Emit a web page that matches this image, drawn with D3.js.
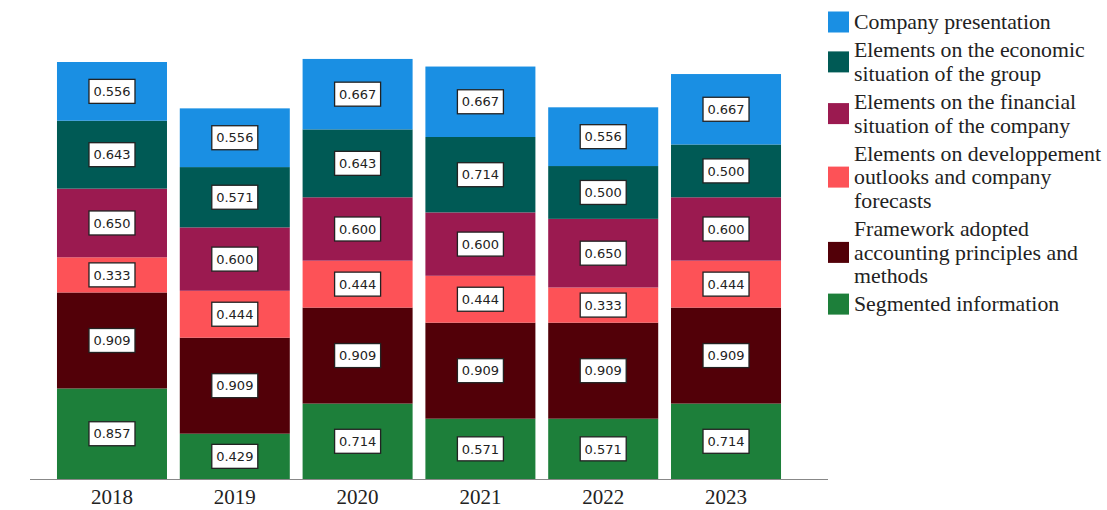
<!DOCTYPE html>
<html>
<head>
<meta charset="utf-8">
<script src="https://cdn.jsdelivr.net/npm/d3@7"></script>
<style>
  body { margin: 0; background: #fff; }
  svg { display: block; }
</style>
</head>
<body>
<svg id="svg" width="1107" height="510"></svg>
<script>
var years = ['2018', '2019', '2020', '2021', '2022', '2023'];

// series, bottom to top of each stack
var segmented   = [0.857, 0.429, 0.714, 0.571, 0.571, 0.714];
var framework   = [0.909, 0.909, 0.909, 0.909, 0.909, 0.909];
var outlooks    = [0.333, 0.444, 0.444, 0.444, 0.333, 0.444];
var financial   = [0.650, 0.600, 0.600, 0.600, 0.650, 0.600];
var economic    = [0.643, 0.571, 0.643, 0.714, 0.500, 0.500];
var presentation = [0.556, 0.556, 0.667, 0.667, 0.556, 0.667];

var colors = ['#1d7f3a', '#520008', '#fd5257', '#9b1a50', '#005a55', '#1a8fe3'];

// legend lines, top to bottom
var legendLines = [
    ['Company presentation'],
    ['Elements on the economic', 'situation of the group'],
    ['Elements on the financial', 'situation of the company'],
    ['Elements on developpement', 'outlooks and company', 'forecasts'],
    ['Framework adopted', 'accounting principles and', 'methods'],
    ['Segmented information']
];
var legendColors = ['#1a8fe3', '#005a55', '#9b1a50', '#fd5257', '#520008', '#1d7f3a'];

var allSeries = [segmented, framework, outlooks, financial, economic, presentation];

var rows = years.map(function (y, i) {
    var r = { year: y };
    allSeries.forEach(function (s, k) { r['s' + k] = s[i]; });
    return r;
});
var keys = allSeries.map(function (s, k) { return 's' + k; });
var stacked = d3.stack().keys(keys)(rows);

var svg = d3.select('svg');

var baseY = 479;
var x = d3.scaleBand()
    .domain(years)
    .range([44.7, 793.3])
    .paddingInner(0.1042)
    .paddingOuter(0.1);

var y = d3.scaleLinear()
    .domain([0, 3.948])
    .range([baseY, 62]);

var layer = svg.selectAll('g.layer')
    .data(stacked)
    .enter()
    .append('g')
    .attr('class', 'layer')
    .attr('fill', function (d, i) { return colors[i]; });

layer.selectAll('rect')
    .data(function (d) { return d; })
    .enter()
    .append('rect')
    .attr('x', function (d) { return x(d.data.year); })
    .attr('y', function (d) { return y(d[1]); })
    .attr('width', x.bandwidth())
    .attr('height', function (d) { return y(d[0]) - y(d[1]); });

// value labels
var labels = svg.selectAll('g.lab')
    .data(stacked.flatMap(function (s, k) {
        return s.map(function (d) { return { d: d, v: allSeries[k][years.indexOf(d.data.year)] }; });
    }))
    .enter()
    .append('g')
    .attr('class', 'lab')
    .attr('transform', function (o) {
        return 'translate(' + (x(o.d.data.year) + x.bandwidth() / 2) + ',' + ((y(o.d[0]) + y(o.d[1])) / 2) + ')';
    });

labels.append('rect')
    .attr('x', -23).attr('y', -12)
    .attr('width', 46).attr('height', 24)
    .attr('fill', '#fff')
    .attr('stroke', '#222')
    .attr('stroke-width', 1.3);

labels.append('text')
    .attr('text-anchor', 'middle')
    .attr('dy', '0.36em')
    .attr('font-family', 'DejaVu Sans')
    .attr('font-size', 13)
    .attr('fill', '#222')
    .text(function (o) { return o.v.toFixed(3); });

// axis
var axis = svg.append('g')
    .attr('transform', 'translate(0,' + baseY + ')')
    .call(d3.axisBottom(x).tickSize(0));
axis.select('.domain').attr('stroke', '#888').attr('d', 'M30,0.5H828');
axis.selectAll('text')
    .attr('y', 25)
    .attr('dy', 0)
    .attr('font-family', 'Liberation Serif')
    .attr('font-size', 21)
    .attr('fill', '#222');

// legend
var lineH = 23.6;
var ly = 22;
legendLines.forEach(function (lines, i) {
    var g = svg.append('g');
    var mid = ly + (lines.length - 1) * lineH / 2;
    g.append('rect')
        .attr('x', 828).attr('y', mid - 10.5)
        .attr('width', 21).attr('height', 21)
        .attr('fill', legendColors[i]);
    lines.forEach(function (t, j) {
        g.append('text')
            .attr('x', 854)
            .attr('y', ly + j * lineH)
            .attr('dy', '0.33em')
            .attr('font-family', 'Liberation Serif')
            .attr('font-size', 21.8)
            .attr('fill', '#222')
            .text(t);
    });
    ly += lines.length * lineH + 4.5;
});
</script>
</body>
</html>
